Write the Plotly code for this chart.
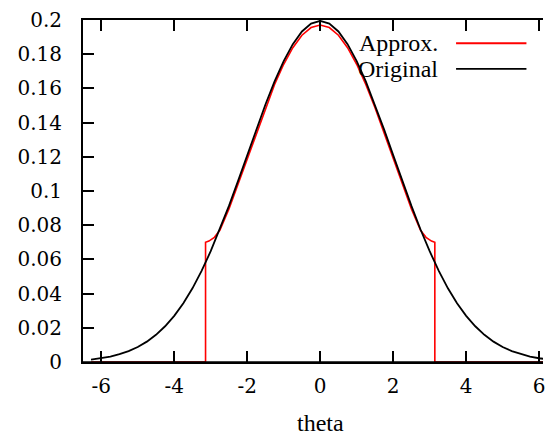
import plotly.graph_objects as go

# ---- data ----
orig_x = [-6.28, -6.0, -5.75, -5.5, -5.25, -5.0, -4.75, -4.5, -4.25, -4.0, -3.75, -3.5, -3.25,
          -3.0, -2.75, -2.5, -2.25, -2.0, -1.75, -1.5, -1.25, -1.0, -0.75, -0.5, -0.25, 0.0,
          0.25, 0.5, 0.75, 1.0, 1.25, 1.5, 1.75, 2.0, 2.25, 2.5, 2.75, 3.0, 3.25, 3.5, 3.75,
          4.0, 4.25, 4.5, 4.75, 5.0, 5.25, 5.5, 5.75, 6.0, 6.28]
orig_y = [0.0014, 0.0022, 0.0032, 0.0046, 0.0064, 0.0088, 0.0119, 0.0159, 0.0209, 0.0270,
          0.0344, 0.0431, 0.0533, 0.0648, 0.0775, 0.0913, 0.1059, 0.1210, 0.1360, 0.1506,
          0.1641, 0.1760, 0.1859, 0.1933, 0.1979, 0.1995, 0.1979, 0.1933, 0.1859, 0.1760,
          0.1641, 0.1506, 0.1360, 0.1210, 0.1059, 0.0913, 0.0775, 0.0648, 0.0533, 0.0431,
          0.0344, 0.0270, 0.0209, 0.0159, 0.0119, 0.0088, 0.0064, 0.0046, 0.0032, 0.0022,
          0.0014]

approx_x = [-6.28, -3.1416, -3.1416, -3.05, -2.9, -2.75, -2.5, -2.25, -2.0, -1.75, -1.5,
            -1.25, -1.0, -0.75, -0.5, -0.25, 0.0, 0.25, 0.5, 0.75, 1.0, 1.25, 1.5, 1.75,
            2.0, 2.25, 2.5, 2.75, 2.9, 3.05, 3.1416, 3.1416, 6.28]
approx_y = [0.0, 0.0, 0.0700, 0.0707, 0.0729, 0.0770, 0.0895, 0.1041, 0.1192, 0.1343,
            0.1489, 0.1623, 0.1741, 0.1838, 0.1911, 0.1956, 0.1971, 0.1956, 0.1911, 0.1838,
            0.1741, 0.1623, 0.1489, 0.1343, 0.1192, 0.1041, 0.0895, 0.0770, 0.0729, 0.0707,
            0.0700, 0.0, 0.0]

x_ticks = [-6, -4, -2, 0, 2, 4, 6]
x_tick_labels = ["-6", "-4", "-2", "0", "2", "4", "6"]
y_ticks = [0, 0.02, 0.04, 0.06, 0.08, 0.1, 0.12, 0.14, 0.16, 0.18, 0.2]
y_tick_labels = ["0", "0.02", "0.04", "0.06", "0.08", "0.1", "0.12", "0.14", "0.16", "0.18", "0.2"]

series_names = ["Approx.", "Original"]
x_title = "theta"

FONT = "Liberation Serif"
FS = 24
TICKFONT = dict(family="DejaVu Serif", size=20, color="black")

fig = go.Figure()
fig.add_trace(go.Scatter(x=approx_x, y=approx_y, mode="lines", name=series_names[0],
                         line=dict(color="#ff0000", width=1.6), showlegend=False))
fig.add_trace(go.Scatter(x=orig_x, y=orig_y, mode="lines", name=series_names[1],
                         line=dict(color="#000000", width=1.8), showlegend=False))

# gnuplot-style key: text on the left, line sample on the right
for i, (name, col) in enumerate(zip(series_names, ["#ff0000", "#000000"])):
    yk = [0.932, 0.857][i]
    fig.add_annotation(x=0.777, y=yk, xref="paper", yref="paper", text=name,
                       showarrow=False, xanchor="right", yanchor="middle",
                       font=dict(family=FONT, size=FS, color="black"))
    fig.add_shape(type="line", xref="paper", yref="paper", x0=0.811, x1=0.964,
                  y0=yk, y1=yk, line=dict(color=col, width=1.8))

# bottom border drawn over the curves (as gnuplot does)
fig.add_shape(type="line", xref="paper", yref="paper", x0=0, x1=1, y0=0, y1=0,
              layer="above", line=dict(color="black", width=1.6))

fig.add_annotation(x=0, y=-0.178, xref="x", yref="paper", text=x_title, showarrow=False,
                   xanchor="center", yanchor="middle",
                   font=dict(family=FONT, size=FS, color="black"))

fig.update_layout(
    width=545, height=436,
    margin=dict(l=83, r=0, t=20, b=74, pad=0),
    paper_bgcolor="white", plot_bgcolor="white",
    font=dict(family=FONT, size=FS, color="black"),
    xaxis=dict(range=[-6.5, 6.106], tickvals=x_ticks, ticktext=x_tick_labels,
               tickfont=TICKFONT, ticklabeloverflow="allow",
               ticks="inside", ticklen=11, tickwidth=1.5, tickcolor="black",
               showline=True, linecolor="black", linewidth=1.5, mirror="ticks",
               showgrid=False, zeroline=False, layer="above traces",
               ticklabelstandoff=5),
    yaxis=dict(range=[0, 0.2], tickvals=y_ticks, ticktext=y_tick_labels,
               tickfont=TICKFONT,
               ticks="inside", ticklen=11, tickwidth=1.5, tickcolor="black",
               showline=True, linecolor="black", linewidth=2, mirror=False,
               showgrid=False, zeroline=False, layer="above traces",
               ticklabelstandoff=15),
)

fig.write_html("out.html")
